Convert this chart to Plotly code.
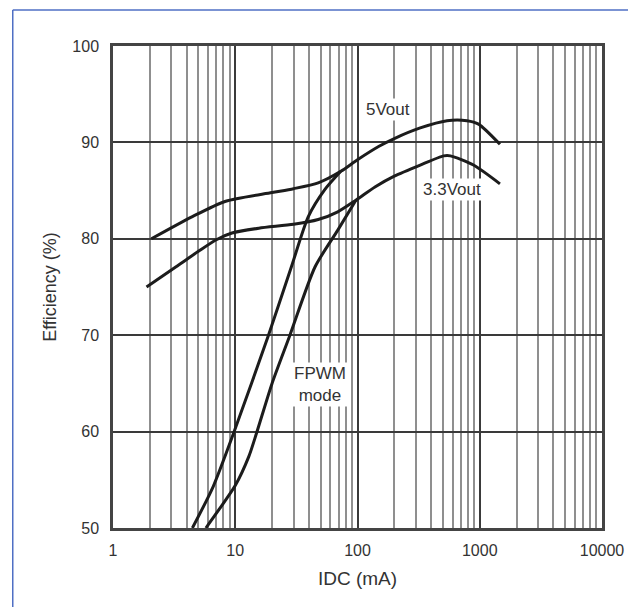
import math
import plotly.graph_objects as go

# 5Vout light-load curve
v5_x = [2.06, 4.46, 8.35, 20, 30, 47.7, 73, 100, 150, 200, 326, 540, 785, 977, 1463]
v5_y = [80.0, 82.3, 83.9, 84.8, 85.2, 85.8, 87.0, 88.2, 89.6, 90.4, 91.5, 92.25, 92.25, 91.9, 89.8]
# 3.3Vout light-load curve
v33_x = [1.88, 3.28, 5.0, 7.0, 9.4, 15.6, 30, 47.7, 69, 97, 140, 200, 326, 507, 575, 888, 1463]
v33_y = [75.0, 77.1, 78.7, 79.9, 80.6, 81.1, 81.5, 82.0, 82.8, 84.0, 85.4, 86.5, 87.65, 88.6, 88.6, 87.65, 85.7]
# 5Vout FPWM mode
f5_x = [4.46, 6.6, 9.8, 18.7, 28.8, 39.6, 54, 73]
f5_y = [50.0, 54.3, 60.0, 70.0, 77.1, 82.3, 85.1, 87.0]
# 3.3Vout FPWM mode
f33_x = [5.75, 7.35, 10, 12.9, 14.9, 20, 28, 45, 69, 97]
f33_y = [50.0, 51.9, 54.4, 57.4, 59.8, 65.0, 70.0, 77.1, 80.9, 84.0]

x_ticks = [1, 10, 100, 1000, 10000]
x_minor = [m * d for d in [1, 10, 100, 1000] for m in range(2, 10)]
y_ticks = [50, 60, 70, 80, 90, 100]

LINE = dict(color="#1c1c1c", width=3, shape="spline", smoothing=0.7)
FONT = "Liberation Sans, Arial, sans-serif"

fig = go.Figure()
for xs, ys in [(v5_x, v5_y), (v33_x, v33_y), (f5_x, f5_y), (f33_x, f33_y)]:
    fig.add_trace(go.Scatter(x=xs, y=ys, mode="lines", line=LINE, showlegend=False, hoverinfo="skip"))

fig.update_layout(
    width=628, height=599,
    margin=dict(l=105, r=30, t=38, b=79),
    paper_bgcolor="white", plot_bgcolor="white",
    font=dict(family=FONT, color="#333333", size=16),
    xaxis=dict(
        type="log", range=[0, 4], tickvals=x_ticks, ticktext=[str(v) for v in x_ticks],
        showgrid=True, gridcolor="#3a3a3a", gridwidth=1.5,
        minor=dict(tickvals=x_minor, showgrid=True, gridcolor="#8f8f8f", gridwidth=1.5, ticks=""),
        showline=True, mirror=True, linecolor="#444444", linewidth=2.5,
        ticks="outside", ticklen=6, tickcolor="rgba(0,0,0,0)",
        tickfont=dict(size=16),
        title=dict(text="IDC (mA)", font=dict(size=19), standoff=14),
        zeroline=False,
    ),
    yaxis=dict(
        range=[50, 100], tickvals=y_ticks,
        showgrid=True, gridcolor="#3a3a3a", gridwidth=1.5,
        showline=True, mirror=True, linecolor="#444444", linewidth=2.5,
        ticks="outside", ticklen=8, tickcolor="rgba(0,0,0,0)",
        tickfont=dict(size=16),
        title=dict(text="Efficiency (%)", font=dict(size=18), standoff=12),
        zeroline=False,
    ),
)


def ann(text, x, y):
    fig.add_annotation(x=math.log10(x), y=y, text=text, showarrow=False, xref="x", yref="y",
                       bgcolor="white", font=dict(size=17, color="#333333"), borderpad=1)


ann("5Vout", 176, 93.4)
ann("3.3Vout", 594, 85.1)
ann("FPWM<br>mode", 49.5, 64.9)

# blue frame of the scanned figure (top and left edges)
fig.add_shape(type="line", xref="paper", yref="paper", x0=-0.205, x1=1.1, y0=1.0747, y1=1.0747,
              line=dict(color="#4f6fc4", width=1.5))
fig.add_shape(type="line", xref="paper", yref="paper", x0=-0.205, x1=-0.205, y0=1.0747, y1=-0.2,
              line=dict(color="#4f6fc4", width=1.5))

fig.write_html("out.html")
